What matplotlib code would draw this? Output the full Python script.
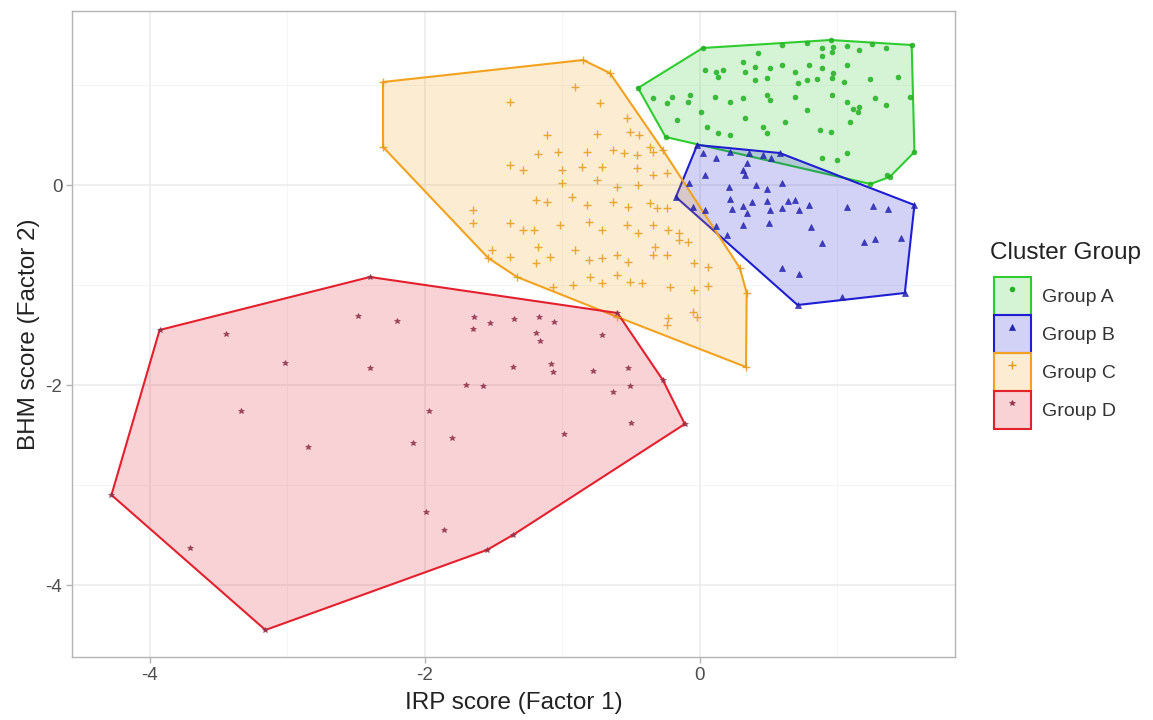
import numpy as np
import matplotlib.pyplot as plt
from matplotlib.colors import to_rgba
from matplotlib.patches import Patch
from matplotlib.lines import Line2D
from matplotlib.legend_handler import HandlerTuple

plt.rcParams['font.family'] = ['Liberation Sans', 'DejaVu Sans']
plt.rcParams['axes.unicode_minus'] = False

# factor scores per cluster
group_a_x = [-0.45, 0.02, 0.95, 1.54, 1.56, 1.38, 1.24, -0.25,
             0.42, 0.60, 0.78, 0.89, 0.97, 1.07, 1.16, 1.25, 1.35, 0.89, 0.96,
             0.04, 0.12, 0.17, 0.31, 0.33, 0.40, 0.51, 0.60, 0.69, 0.79, 0.89, 0.97, 1.07,
             0.40, 0.49, 0.71, 0.78, 0.85, 0.96, 1.05, 1.24, 1.44, 0.13,
             -0.34, -0.24, -0.20, -0.07, -0.09, 0.01, 0.11, 0.22, 0.31, 0.49, 0.51, 0.69,
             0.78, 0.96, 1.07, 1.16, 1.27, 1.35, -0.17, 0.05, 0.13, 0.22, 0.33, 0.46,
             0.49, 0.62, 0.87, 0.95, 1.09, 0.89, 1.00, 1.07, 1.36, 1.53, 1.11, 1.15]
group_a_y = [0.97, 1.37, 1.45, 1.40, 0.33, 0.08, 0.01, 0.48,
             1.32, 1.40, 1.42, 1.37, 1.38, 1.39, 1.35, 1.41, 1.37, 1.29, 1.33,
             1.15, 1.13, 1.15, 1.23, 1.13, 1.18, 1.17, 1.20, 1.13, 1.20, 1.17, 1.12, 1.20,
             1.05, 1.07, 1.02, 1.05, 1.06, 1.07, 1.03, 1.06, 1.08, 1.08,
             0.87, 0.82, 0.88, 0.90, 0.83, 0.73, 0.88, 0.83, 0.87, 0.90, 0.85, 0.88,
             0.75, 0.90, 0.83, 0.78, 0.87, 0.80, 0.65, 0.58, 0.52, 0.50, 0.67, 0.58,
             0.52, 0.63, 0.55, 0.53, 0.63, 0.27, 0.25, 0.32, 0.10, 0.88, 0.76, 0.73]

group_b_x = [-0.02, 0.58, 1.56, 1.49, 0.71, -0.175,
             0.02, 0.12, 0.22, 0.36, 0.46, 0.52, 0.34, 0.31, 0.33, 0.04, -0.08, 0.21,
             0.41, 0.49, 0.60, 0.22, 0.49, -0.05, 0.04, 0.23, 0.31, 0.38, 0.51, 0.60,
             0.64, 0.69, 0.72, 0.79, 1.07, 1.26, 1.37, 0.34, 0.12, 0.31, 0.50, 0.81,
             0.89, 1.19, 1.27, 1.46, 0.60, 0.72, 1.03, 0.20]
group_b_y = [0.40, 0.32, -0.20, -1.08, -1.20, -0.12,
             0.32, 0.27, 0.33, 0.32, 0.30, 0.27, 0.22, 0.15, 0.10, 0.10, 0.02, -0.02,
             0.00, -0.04, 0.02, -0.14, -0.16, -0.22, -0.25, -0.24, -0.21, -0.17, -0.25, -0.23,
             -0.16, -0.15, -0.25, -0.20, -0.22, -0.21, -0.24, -0.28, -0.41, -0.40, -0.38, -0.42,
             -0.58, -0.57, -0.54, -0.53, -0.83, -0.89, -1.12, -0.50]

group_c_x = [-2.305, -0.85, -0.655, -0.27, 0.29, 0.34, 0.335, -0.60, -1.33, -1.54, -2.305,
             -0.91, -1.38, -0.73, -0.53, -0.51, -0.44, -0.75, -1.11, -1.18, -1.03, -0.82,
             -0.63, -0.55, -0.46, -0.36, -0.34, -1.38, -1.29, -1.00, -0.86, -0.71, -0.46,
             -1.00, -0.75, -0.60, -0.45, -0.34, -0.24, -1.65, -1.19, -1.11, -0.93, -0.82,
             -0.63, -0.52, -0.36, -0.31, -0.24, -1.65, -1.38, -1.29, -1.21, -1.02, -0.81,
             -0.71, -0.53, -0.45, -0.34, -0.23, -0.15, -0.15, -0.09, -1.51, -1.38, -1.18,
             -1.09, -0.91, -0.81, -0.71, -0.60, -0.52, -0.34, -0.24, -0.33, -0.04, 0.06,
             -1.19, -0.80, -0.60, -1.07, -0.92, -0.71, -0.51, -0.42, -0.22, -0.04, 0.06,
             -0.23, -0.24, -0.05, -0.02]
group_c_y = [1.03, 1.25, 1.12, 0.35, -0.83, -1.08, -1.82, -1.32, -0.92, -0.73, 0.38,
             0.98, 0.83, 0.82, 0.67, 0.53, 0.50, 0.51, 0.50, 0.31, 0.33, 0.33,
             0.35, 0.32, 0.30, 0.38, 0.33, 0.20, 0.15, 0.15, 0.18, 0.18, 0.17,
             0.02, 0.05, -0.02, 0.00, 0.10, 0.12, -0.25, -0.15, -0.17, -0.12, -0.20,
             -0.17, -0.22, -0.18, -0.23, -0.23, -0.38, -0.38, -0.45, -0.45, -0.40, -0.37,
             -0.45, -0.40, -0.48, -0.40, -0.45, -0.48, -0.55, -0.57, -0.65, -0.72, -0.62,
             -0.72, -0.65, -0.75, -0.73, -0.70, -0.77, -0.70, -0.70, -0.62, -0.78, -0.82,
             -0.78, -0.92, -0.90, -1.02, -1.00, -0.98, -0.97, -0.98, -1.02, -1.05, -1.01,
             -1.33, -1.40, -1.27, -1.32]

group_d_x = [-3.93, -2.40, -0.60, -0.27, -0.11, -1.36, -1.55, -3.16, -4.28,
             -3.45, -2.49, -2.20, -3.02, -2.40, -3.34, -2.85, -2.09, -1.99, -1.86, -3.71,
             -1.64, -1.65, -1.53, -1.35, -1.17, -1.06, -1.19, -1.16, -0.71, -1.08, -1.07,
             -1.36, -0.78, -0.52, -1.70, -1.58, -0.63, -0.51, -1.97, -0.50, -1.80, -0.99]
group_d_y = [-1.45, -0.92, -1.28, -1.95, -2.39, -3.50, -3.65, -4.45, -3.10,
             -1.49, -1.31, -1.36, -1.78, -1.83, -2.26, -2.62, -2.58, -3.27, -3.45, -3.63,
             -1.32, -1.44, -1.38, -1.34, -1.32, -1.37, -1.48, -1.56, -1.50, -1.79, -1.87,
             -1.82, -1.86, -1.83, -2.00, -2.01, -2.07, -2.01, -2.26, -2.38, -2.53, -2.49]

group_names = ['Group A', 'Group B', 'Group C', 'Group D']
line_colors = ['#2FCC2F', '#1E1ED2', '#F2A21E', '#E3202E']
point_colors = ['#22B022', '#2424B0', '#E49A1A', '#8E3048']
markers = ['o', '^', '+', '*']
marker_sizes = [3.5, 4.5, 6, 4]


def convex_hull(xs, ys):
    pts = sorted(set(zip(xs, ys)))

    def cross(o, a, b):
        return (a[0] - o[0]) * (b[1] - o[1]) - (a[1] - o[1]) * (b[0] - o[0])

    lower = []
    for p in pts:
        while len(lower) >= 2 and cross(lower[-2], lower[-1], p) <= 0:
            lower.pop()
        lower.append(p)
    upper = []
    for p in reversed(pts):
        while len(upper) >= 2 and cross(upper[-2], upper[-1], p) <= 0:
            upper.pop()
        upper.append(p)
    return np.array(lower[:-1] + upper[:-1])


groups = [(group_a_x, group_a_y), (group_b_x, group_b_y),
          (group_c_x, group_c_y), (group_d_x, group_d_y)]

fig = plt.figure(figsize=(11.53, 7.2), dpi=100)
ax = fig.add_axes([72 / 1153, 1 - 657 / 720, (955 - 72) / 1153, (657 - 11) / 720])

for (gx, gy), lc in zip(groups, line_colors):
    hull = convex_hull(gx, gy)
    ax.fill(hull[:, 0], hull[:, 1], facecolor=to_rgba(lc, 0.2),
            edgecolor=lc, linewidth=1.5, zorder=2)

for (gx, gy), pc, m, ms in zip(groups, point_colors, markers, marker_sizes):
    ax.plot(gx, gy, linestyle='none', marker=m, markersize=ms, color=pc,
            markeredgewidth=1.0 if m == '+' else 0.5, alpha=0.85, zorder=3)

ax.set_xlim(-4.567, 1.855)
ax.set_ylim(-4.72, 1.74)
ax.set_xticks([-4, -2, 0])
ax.set_yticks([-4, -2, 0])
ax.set_xticks([-3, -1, 1], minor=True)
ax.set_yticks([-3, -1, 1], minor=True)
ax.grid(which='major', color='#EBEBEB', linewidth=1.1, zorder=0)
ax.grid(which='minor', color='#F4F4F4', linewidth=0.6, zorder=0)
ax.set_axisbelow(True)
ax.tick_params(which='major', length=4, width=1, color='#B3B3B3',
               labelsize=13.5, labelcolor='#4D4D4D', pad=3)
ax.tick_params(which='minor', length=0)
for spine in ax.spines.values():
    spine.set_color('#B3B3B3')
    spine.set_linewidth(1.0)

ax.set_xlabel('IRP score (Factor 1)', fontsize=17.5, color='#222222', labelpad=6)
ax.set_ylabel('BHM score (Factor 2)', fontsize=17.5, color='#222222', labelpad=4)

# legend: title as separate text so the gap above the keys can be set
fig.text(990 / 1153, 1 - 253 / 720, 'Cluster Group', fontsize=17.5,
         color='#222222', ha='left', va='center')

handles = []
for lc, pc, m, ms in zip(line_colors, point_colors, markers, marker_sizes):
    box = Patch(facecolor=to_rgba(lc, 0.2), edgecolor=lc, linewidth=1.5)
    dot = Line2D([], [], linestyle='none', marker=m, markersize=ms, color=pc,
                 markeredgewidth=1.0 if m == '+' else 0.5)
    handles.append((box, dot))

leg = fig.legend(handles, group_names, loc='upper left',
                 bbox_to_anchor=(980 / 1153, 1 - 263 / 720),
                 handler_map={tuple: HandlerTuple(ndivide=1)},
                 frameon=False, fontsize=14,
                 handlelength=1.9, handleheight=2.64, labelspacing=0.0,
                 handletextpad=0.6, borderpad=0.2)
for t in leg.get_texts():
    t.set_color('#333333')

fig.savefig('out.png', dpi=100)
